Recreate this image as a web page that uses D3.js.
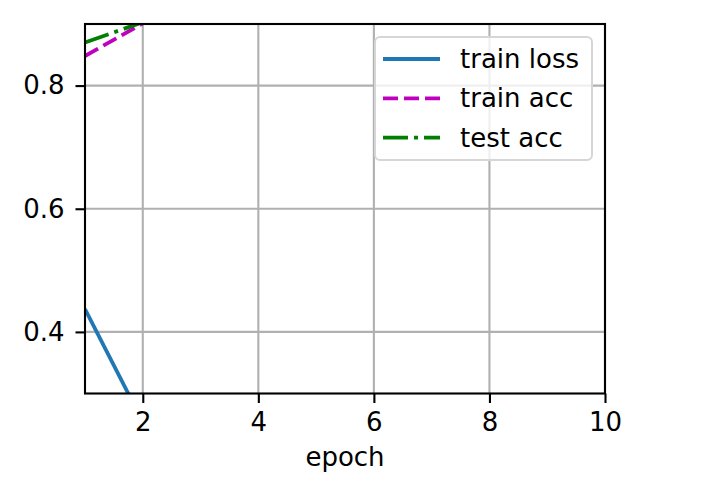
<!DOCTYPE html>
<html>
<head>
<meta charset="utf-8">
<script src="https://cdn.jsdelivr.net/npm/d3@7"></script>
<style>
  body { margin: 0; background: #fff; }
  svg text { font-family: "DejaVu Sans", sans-serif; fill: #000; }
</style>
</head>
<body>
<div id="chart"></div>
<script>
// data
const epochs = [1, 2];
const trainLoss = [0.437, 0.254];
const trainAcc = [0.848, 0.901];
const testAcc = [0.870, 0.903];
const xTicks = [2, 4, 6, 8, 10];
const yTicks = [0.4, 0.6, 0.8];
const seriesNames = ["train loss", "train acc", "test acc"];

drawChart();

function drawChart() {
  let W = 702, H = 494;
  let margin = {top: 24, right: 97, bottom: 100.5, left: 85},
    width = W - margin.left - margin.right,
    height = H - margin.top - margin.bottom;

  let svg = d3.select("#chart")
    .append("svg")
    .attr("width", W)
    .attr("height", H);

  let g = svg.append("g")
    .attr("transform", "translate(" + margin.left + "," + margin.top + ")");

  let x = d3.scaleLinear().domain([1, 10]).range([0, width]);
  let y = d3.scaleLinear().domain([0.3, 0.9]).range([height, 0]);

  // grid
  g.append("g").selectAll("line")
    .data(xTicks).enter().append("line")
    .attr("x1", d => x(d)).attr("x2", d => x(d))
    .attr("y1", 0).attr("y2", height)
    .attr("stroke", "#b0b0b0").attr("stroke-width", 2.1);
  g.append("g").selectAll("line")
    .data(yTicks).enter().append("line")
    .attr("x1", 0).attr("x2", width)
    .attr("y1", d => y(d)).attr("y2", d => y(d))
    .attr("stroke", "#b0b0b0").attr("stroke-width", 2.1);

  // lines
  g.append("clipPath").attr("id", "clip")
    .append("rect").attr("width", width).attr("height", height);

  let series = [
    {name: seriesNames[0], values: trainLoss, color: "#1f77b4", dash: null},
    {name: seriesNames[1], values: trainAcc, color: "#bf00bf", dash: "15,6"},
    {name: seriesNames[2], values: testAcc, color: "#008000", dash: "25,6,4,6"}
  ];

  let line = d3.line()
    .x((d, i) => x(epochs[i]))
    .y(d => y(d));

  g.append("g").attr("clip-path", "url(#clip)")
    .selectAll("path")
    .data(series).enter().append("path")
    .attr("d", d => line(d.values))
    .attr("fill", "none")
    .attr("stroke", d => d.color)
    .attr("stroke-width", 3.8)
    .attr("stroke-dasharray", d => d.dash);

  // axes
  let xAxis = g.append("g")
    .attr("transform", "translate(0," + height + ")")
    .call(d3.axisBottom(x).tickValues(xTicks).tickSize(9.5).tickPadding(10).tickFormat(d3.format("d")));
  let yAxis = g.append("g")
    .call(d3.axisLeft(y).tickValues(yTicks).tickSize(9.5).tickPadding(11).tickFormat(d3.format(".1f")));
  [xAxis, yAxis].forEach(a => {
    a.select(".domain").remove();
    a.selectAll("line").attr("stroke", "#000").attr("stroke-width", 2.1);
    a.selectAll("text").style("font-size", "26px").attr("fill", "#000");
  });

  // frame
  g.append("rect")
    .attr("width", width).attr("height", height)
    .attr("fill", "none").attr("stroke", "#000").attr("stroke-width", 2.1);

  // x label
  svg.append("text")
    .attr("x", margin.left + width / 2)
    .attr("y", 466)
    .attr("text-anchor", "middle")
    .style("font-size", "26px")
    .text("epoch");

  // legend
  let legend = svg.append("g").attr("transform", "translate(375,37)");
  legend.append("rect")
    .attr("width", 217).attr("height", 123)
    .attr("rx", 5).attr("ry", 5)
    .attr("fill", "#fff").attr("fill-opacity", 0.8)
    .attr("stroke", "#d6d6d6").attr("stroke-width", 2);

  let items = legend.selectAll("g.item")
    .data(series).enter().append("g")
    .attr("transform", (d, i) => "translate(0," + (22 + i * 39.3) + ")");
  items.append("line")
    .attr("x1", 8).attr("x2", 65)
    .attr("stroke", d => d.color)
    .attr("stroke-width", 3.8)
    .attr("stroke-dasharray", d => d.dash);
  items.append("text")
    .attr("x", 85).attr("y", 9)
    .style("font-size", "26px")
    .text(d => d.name);
}
</script>
</body>
</html>
